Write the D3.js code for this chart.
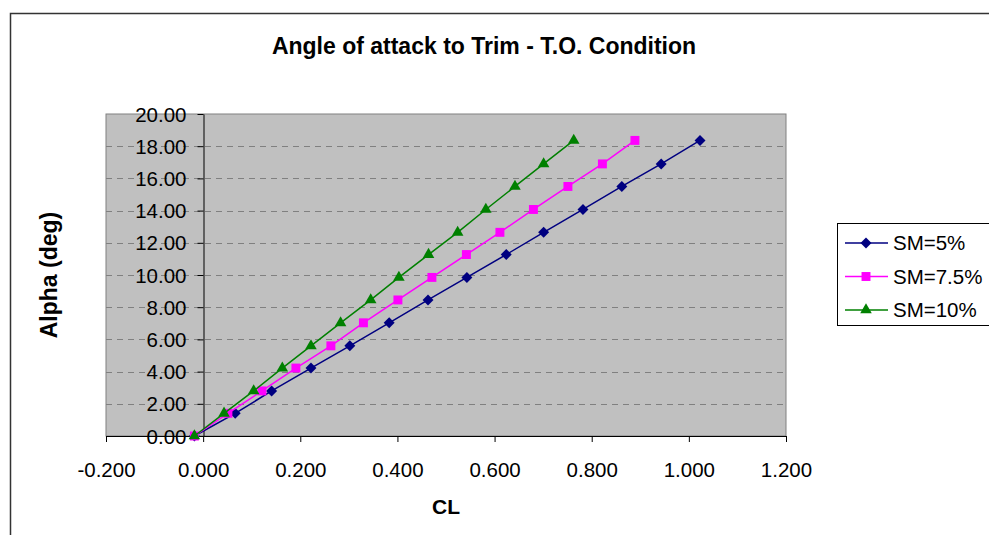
<!DOCTYPE html>
<html>
<head>
<meta charset="utf-8">
<script src="https://cdn.jsdelivr.net/npm/d3@7"></script>
<style>
  html, body { margin: 0; padding: 0; background: #fff; }
  svg { display: block; font-family: "Liberation Sans", Arial, sans-serif; }
</style>
</head>
<body>
<svg id="chart" width="989" height="535"></svg>
<script>
// Trim angle of attack versus lift coefficient for three static margins
const alphaDeg = [0, 1.41, 2.8, 4.22, 5.6, 7.03, 8.45, 9.85, 11.27, 12.65, 14.07, 15.5, 16.9, 18.36];
const clSM5   = [-0.018, 0.066, 0.141, 0.222, 0.302, 0.383, 0.463, 0.543, 0.624, 0.701, 0.782, 0.862, 0.943, 1.023];
const clSM75  = [-0.018, 0.051, 0.121, 0.191, 0.263, 0.330, 0.401, 0.471, 0.542, 0.611, 0.680, 0.751, 0.822, 0.889];
const clSM10  = [-0.018, 0.043, 0.104, 0.163, 0.222, 0.283, 0.345, 0.403, 0.464, 0.524, 0.582, 0.642, 0.701, 0.763];
const seriesNames = ["SM=5%", "SM=7.5%", "SM=10%"];
const xTicks = [-0.2, 0, 0.2, 0.4, 0.6, 0.8, 1.0, 1.2];
const yTicks = [0, 2, 4, 6, 8, 10, 12, 14, 16, 18, 20];

// Square diamond marker (equal width and height)
const squareDiamond = {
  draw(ctx, size) {
    const r = Math.sqrt(size / 2);
    ctx.moveTo(0, -r); ctx.lineTo(r, 0); ctx.lineTo(0, r); ctx.lineTo(-r, 0); ctx.closePath();
  }
};

const series = [
  { name: seriesNames[0], cl: clSM5,  color: "#000080", symbol: squareDiamond,    size: 60 },
  { name: seriesNames[1], cl: clSM75, color: "#FF00FF", symbol: d3.symbolSquare,   size: 80 },
  { name: seriesNames[2], cl: clSM10, color: "#008000", symbol: d3.symbolTriangle, size: 58 }
];

const svg = d3.select("#chart");

// Chart frame
svg.append("rect").attr("x", 10.5).attr("y", 13.5).attr("width", 1000).attr("height", 600)
  .attr("fill", "#fff").attr("stroke", "#333").attr("stroke-width", 1.5);

const plot = { left: 106, right: 786, top: 114, bottom: 436 };
const x = d3.scaleLinear().domain([-0.2, 1.2]).range([plot.left, plot.right]);
const y = d3.scaleLinear().domain([0, 20]).range([plot.bottom, plot.top]);

// Plot area background
svg.append("rect").attr("x", plot.left).attr("y", plot.top)
  .attr("width", plot.right - plot.left).attr("height", plot.bottom - plot.top)
  .attr("fill", "#C0C0C0").attr("stroke", "#808080").attr("stroke-width", 1);

// Horizontal dashed gridlines
svg.append("g").selectAll("line").data(yTicks.filter(v => v > 0 && v < 20)).join("line")
  .attr("x1", plot.left).attr("x2", plot.right)
  .attr("y1", d => Math.round(y(d)) + 0.5).attr("y2", d => Math.round(y(d)) + 0.5)
  .attr("stroke", "#808080").attr("stroke-width", 1).attr("stroke-dasharray", "6,5");

// Axes (y axis sits at CL = 0, x axis at alpha = 0)
const xAxis = d3.axisBottom(x).tickValues(xTicks).tickFormat(d3.format(".3f")).tickSize(6).tickSizeOuter(0);
const yAxis = d3.axisLeft(y).tickValues(yTicks).tickFormat(d3.format(".2f")).tickSize(6).tickSizeOuter(0);

const gx = svg.append("g").attr("transform", `translate(0,${plot.bottom})`).call(xAxis);
gx.select(".domain").attr("stroke", "#000");
gx.selectAll(".tick line").attr("stroke", "#000");
gx.selectAll("text").attr("font-size", 20.5).attr("fill", "#000").attr("y", 41).attr("dy", 0)
  .text(d => d3.format(".3f")(d).replace("−", "-"));

const gy = svg.append("g").attr("transform", `translate(${Math.round(x(0)) + 0.5},0)`).call(yAxis);
gy.select(".domain").attr("stroke", "#000");
gy.selectAll(".tick line").attr("stroke", "#000");
gy.selectAll("text").attr("font-size", 20.5).attr("fill", "#000").attr("x", -17).attr("dy", "0.35em");

// Series lines and markers
const line = d3.line().x(d => x(d[0])).y(d => y(d[1]));
series.forEach(s => {
  const pts = s.cl.map((c, i) => [c, alphaDeg[i]]);
  svg.append("path").datum(pts).attr("d", line)
    .attr("fill", "none").attr("stroke", s.color).attr("stroke-width", 1.5);
  svg.append("g").selectAll("path").data(pts).join("path")
    .attr("transform", d => `translate(${x(d[0])},${y(d[1])})`)
    .attr("d", d3.symbol().type(s.symbol).size(s.size))
    .attr("fill", s.color);
});

// Title and axis titles
svg.append("text").attr("x", 484).attr("y", 54).attr("text-anchor", "middle")
  .attr("font-size", 23).attr("font-weight", "bold").text("Angle of attack to Trim - T.O. Condition");
svg.append("text").attr("x", 446).attr("y", 514).attr("text-anchor", "middle")
  .attr("font-size", 21).attr("font-weight", "bold").text("CL");
svg.append("text").attr("transform", "translate(57,275) rotate(-90)").attr("text-anchor", "middle")
  .attr("font-size", 23).attr("font-weight", "bold").text("Alpha (deg)");

// Legend
const lg = svg.append("g");
lg.append("rect").attr("x", 837.5).attr("y", 223.5).attr("width", 160).attr("height", 102)
  .attr("fill", "#fff").attr("stroke", "#000").attr("stroke-width", 1);
series.forEach((s, i) => {
  const cy = 243 + i * 33.5;
  lg.append("line").attr("x1", 845).attr("x2", 888).attr("y1", cy).attr("y2", cy)
    .attr("stroke", s.color).attr("stroke-width", 1.5);
  lg.append("path").attr("transform", `translate(866,${cy})`)
    .attr("d", d3.symbol().type(s.symbol).size(s.size)).attr("fill", s.color);
  lg.append("text").attr("x", 893).attr("y", cy + 7).attr("font-size", 20.5).text(s.name);
});
</script>
</body>
</html>
